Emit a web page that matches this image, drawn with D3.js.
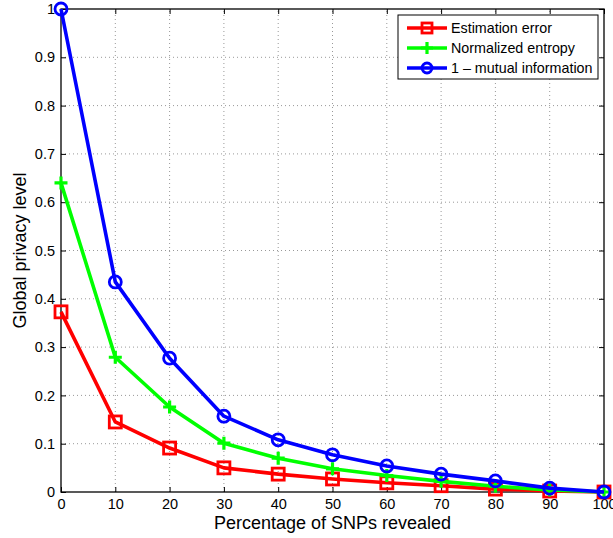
<!DOCTYPE html>
<html>
<head>
<meta charset="utf-8">
<title>Global privacy level</title>
<script src="https://d3js.org/d3.v7.min.js"></script>
<style>
body { margin: 0; background: #fff; }
svg text { font-family: "Liberation Sans", Arial, Helvetica, sans-serif; fill: #000; }
</style>
</head>
<body>
<svg id="chart" width="613" height="538"></svg>
<script>
// data
var percents = [0, 10, 20, 30, 40, 50, 60, 70, 80, 90, 100];
var estimationError = [0.373, 0.145, 0.091, 0.050, 0.037, 0.027, 0.019, 0.013, 0.006, 0.002, 0];
var normalizedEntropy = [0.640, 0.279, 0.176, 0.101, 0.070, 0.048, 0.034, 0.022, 0.012, 0.004, 0];
var mutualInfo = [1.0, 0.435, 0.277, 0.157, 0.108, 0.077, 0.054, 0.037, 0.023, 0.008, 0];
var xTicks = [0, 10, 20, 30, 40, 50, 60, 70, 80, 90, 100];
var yTicks = [0, 0.1, 0.2, 0.3, 0.4, 0.5, 0.6, 0.7, 0.8, 0.9, 1];

var series = [
  {name: "Estimation error", values: estimationError, color: "#ff0000", marker: "square"},
  {name: "Normalized entropy", values: normalizedEntropy, color: "#00ff00", marker: "plus"},
  {name: "1 \u2013 mutual information", values: mutualInfo, color: "#0000ff", marker: "circle"}
];

var margin = {left: 61, top: 9, right: 9, bottom: 46};
var W = 613, H = 538;
var svg = d3.select("#chart");

var x = d3.scaleLinear().domain([0, 100]).range([margin.left, W - margin.right]);
var y = d3.scaleLinear().domain([0, 1]).range([H - margin.bottom, margin.top]);

// grid
var grid = svg.append("g");
grid.selectAll(".gx").data(xTicks.slice(1, -1)).enter().append("line")
  .attr("x1", d => x(d)).attr("x2", d => x(d))
  .attr("y1", y(0)).attr("y2", y(1))
  .attr("stroke", "#999").attr("stroke-width", 1).attr("stroke-dasharray", "1,3");
grid.selectAll(".gy").data(yTicks.slice(1, -1)).enter().append("line")
  .attr("y1", d => y(d)).attr("y2", d => y(d))
  .attr("x1", x(0)).attr("x2", x(100))
  .attr("stroke", "#999").attr("stroke-width", 1).attr("stroke-dasharray", "1,3");

// axes, ticks inside
var fmt = d3.format("");
var xAxis = svg.append("g").attr("transform", "translate(0," + y(0) + ")")
  .call(d3.axisBottom(x).tickValues(xTicks).tickSize(-5).tickPadding(7).tickFormat(fmt));
var xTop = svg.append("g").attr("transform", "translate(0," + y(1) + ")")
  .call(d3.axisTop(x).tickValues(xTicks).tickSize(-5).tickFormat(""));
var yAxis = svg.append("g").attr("transform", "translate(" + x(0) + ",0)")
  .call(d3.axisLeft(y).tickValues(yTicks).tickSize(-5).tickPadding(6).tickFormat(fmt));
var yRight = svg.append("g").attr("transform", "translate(" + x(100) + ",0)")
  .call(d3.axisRight(y).tickValues(yTicks).tickSize(-5).tickFormat(""));

[xAxis, xTop, yAxis, yRight].forEach(function(a) {
  a.select(".domain").remove();
  a.selectAll("line").attr("stroke", "#000");
  a.selectAll("text").attr("font-size", 14.5).attr("font-family", "Liberation Sans, Arial, sans-serif");
});

svg.append("rect")
  .attr("x", x(0)).attr("y", y(1))
  .attr("width", x(100) - x(0)).attr("height", y(0) - y(1))
  .attr("fill", "none").attr("stroke", "#000").attr("stroke-width", 1.3);

// marker drawing
function drawMarker(g, type, color, size) {
  if (type === "square") {
    g.append("rect").attr("x", -size / 2).attr("y", -size / 2)
      .attr("width", size).attr("height", size)
      .attr("fill", "none").attr("stroke", color).attr("stroke-width", 2.8);
  } else if (type === "circle") {
    g.append("circle").attr("r", size / 2)
      .attr("fill", "none").attr("stroke", color).attr("stroke-width", 2.8);
  } else {
    g.append("path").attr("d", "M" + (-size / 2) + ",0H" + (size / 2) + "M0," + (-size / 2) + "V" + (size / 2))
      .attr("fill", "none").attr("stroke", color).attr("stroke-width", 3.2);
  }
}

var line = d3.line().x(d => x(d[0])).y(d => y(d[1]));

series.forEach(function(s) {
  var pts = percents.map((p, i) => [p, s.values[i]]);
  svg.append("path").datum(pts)
    .attr("d", line).attr("fill", "none")
    .attr("stroke", s.color).attr("stroke-width", 3.6)
    .attr("stroke-linejoin", "round");
  pts.forEach(function(p) {
    var g = svg.append("g").attr("transform", "translate(" + x(p[0]) + "," + y(p[1]) + ")");
    drawMarker(g, s.marker, s.color, s.marker === "plus" ? 13 : 12);
  });
});

// legend
var lg = svg.append("g").attr("transform", "translate(398,15)");
lg.append("rect").attr("width", 200).attr("height", 64)
  .attr("fill", "#fff").attr("stroke", "#000").attr("stroke-width", 1);
series.forEach(function(s, i) {
  var yy = 13 + i * 20;
  lg.append("line").attr("x1", 9).attr("x2", 49).attr("y1", yy).attr("y2", yy)
    .attr("stroke", s.color).attr("stroke-width", 3.6);
  var g = lg.append("g").attr("transform", "translate(29," + yy + ")");
  drawMarker(g, s.marker, s.color, s.marker === "plus" ? 12 : 10);
  lg.append("text").attr("x", 53).attr("y", yy).attr("dy", "0.35em")
    .attr("font-size", 14.3).text(s.name);
});

// axis labels
svg.append("text").attr("x", (x(0) + x(100)) / 2).attr("y", 529)
  .attr("text-anchor", "middle").attr("font-size", 18).text("Percentage of SNPs revealed");
svg.append("text").attr("transform", "translate(26," + y(0.5) + ") rotate(-90)")
  .attr("text-anchor", "middle").attr("font-size", 18).text("Global privacy level");
</script>
</body>
</html>
